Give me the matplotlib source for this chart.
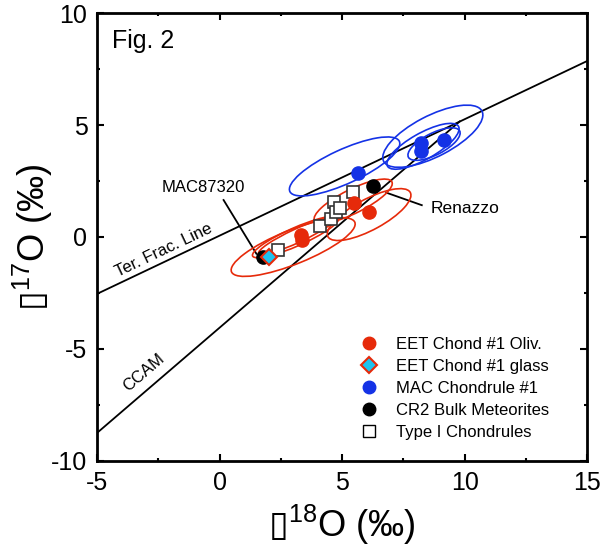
import numpy as np
import matplotlib
matplotlib.use("Agg")
import matplotlib.pyplot as plt
from matplotlib.patches import Ellipse
from matplotlib.lines import Line2D

plt.rcParams['font.family'] = ['Liberation Sans', 'DejaVu Sans']
plt.rcParams['mathtext.fontset'] = 'custom'
plt.rcParams['mathtext.rm'] = 'Liberation Sans'
plt.rcParams['mathtext.sf'] = 'DejaVu Sans'
plt.rcParams['axes.unicode_minus'] = False

# data
eet_oliv_x = [3.3, 3.35, 5.5, 6.1]
eet_oliv_y = [0.08, -0.12, 1.5, 1.12]
eet_glass_x = [2.0]
eet_glass_y = [-0.88]
mac_x = [5.65, 8.2, 8.2, 9.15]
mac_y = [2.85, 4.2, 3.85, 4.35]
cr2_x = [1.77, 6.25]
cr2_y = [-0.88, 2.28]
type1_x = [2.4, 4.1, 4.55, 4.65, 4.75, 4.9, 5.45]
type1_y = [-0.6, 0.5, 0.8, 1.55, 1.1, 1.3, 2.0]

# error ellipses: centre x, centre y, width, height, angle
red_ell = [
    (3.0, -0.45, 5.5, 1.5, 24),
    (3.15, 0.05, 3.5, 0.6, 27),
    (3.1, 0.0, 3.9, 0.8, 26),
    (5.45, 1.6, 3.6, 1.05, 29),
    (6.1, 1.0, 3.9, 1.35, 31),
]
blue_ell = [
    (5.1, 3.15, 5.0, 1.5, 27),
    (8.7, 4.5, 4.6, 1.8, 30),
    (8.3, 4.05, 3.4, 1.15, 32),
    (8.75, 4.15, 2.4, 0.95, 30),
]

# reference lines
tfl_slope, tfl_icpt, tfl_range = 0.52, 0.06, (-5, 15)
ccam_slope, ccam_icpt, ccam_range = 0.94, -4.05, (-5, 9.8)

red = '#e62a0a'
blue = '#1432e6'
cyan = '#1ec3f0'

fig = plt.figure(figsize=(6.11, 5.46), dpi=100)
ax = fig.add_axes([0.159, 0.156, 0.802, 0.820])

for slope, icpt, rng in [(tfl_slope, tfl_icpt, tfl_range), (ccam_slope, ccam_icpt, ccam_range)]:
    xs = np.array(rng)
    ax.plot(xs, slope * xs + icpt, color='black', lw=1.3, zorder=2)

for cx, cy, w, h, a in red_ell:
    ax.add_patch(Ellipse((cx, cy), w, h, angle=a, fill=False, ec=red, lw=1.2, zorder=3))
for cx, cy, w, h, a in blue_ell:
    ax.add_patch(Ellipse((cx, cy), w, h, angle=a, fill=False, ec=blue, lw=1.2, zorder=3))

# leader lines
ax.plot([0.16, 1.5], [1.65, -0.75], color='black', lw=1.3, zorder=2)
ax.plot([6.8, 8.25], [1.98, 1.42], color='black', lw=1.3, zorder=2)

ax.plot(cr2_x, cr2_y, 'o', color='black', ms=9.5, zorder=4)
ax.plot(type1_x, type1_y, 's', mfc='white', mec='#333333', mew=1.2, ms=8.5, zorder=5)
ax.plot(eet_oliv_x, eet_oliv_y, 'o', color=red, ms=9.5, zorder=6)
ax.plot(mac_x, mac_y, 'o', color=blue, ms=9.5, zorder=6)
ax.plot(eet_glass_x, eet_glass_y, 'D', mfc=cyan, mec=red, mew=1.5, ms=8, zorder=7)

ax.text(-0.65, 2.2, 'MAC87320', fontsize=12, ha='center', va='center')
ax.text(8.6, 1.25, 'Renazzo', fontsize=12.5, ha='left', va='center')
ax.text(-2.3, -0.6, 'Ter. Frac. Line', fontsize=12, ha='center', va='center',
        rotation=25.4, rotation_mode='anchor')
ax.text(-3.1, -6.05, 'CCAM', fontsize=12, ha='center', va='center',
        rotation=40.7, rotation_mode='anchor')
ax.text(0.03, 0.965, 'Fig. 2', transform=ax.transAxes, fontsize=18, ha='left', va='top')

ax.set_xlim(-5, 15)
ax.set_ylim(-10, 10)
ax.set_xticks([-5, 0, 5, 10, 15])
ax.set_yticks([-10, -5, 0, 5, 10])
ax.set_xticks(np.arange(-2.5, 15, 5), minor=True)
ax.set_yticks(np.arange(-7.5, 10, 5), minor=True)
ax.tick_params(which='both', direction='in', top=True, right=True, labelsize=18, width=1.5)
ax.tick_params(which='major', length=5, pad=7)
ax.tick_params(which='minor', length=2.5)
for s in ax.spines.values():
    s.set_linewidth(2)

box = '$\\mathsf{\u25af}$'
ax.set_xlabel(box + r'$\mathregular{^{18}}$O (‰)', fontsize=26, labelpad=6)
ax.set_ylabel(box + r'$\mathregular{^{17}}$O (‰)', fontsize=26, labelpad=-3)

handles = [
    Line2D([], [], ls='none', marker='o', color=red, ms=9),
    Line2D([], [], ls='none', marker='D', mfc=cyan, mec=red, mew=1.5, ms=8),
    Line2D([], [], ls='none', marker='o', color=blue, ms=9),
    Line2D([], [], ls='none', marker='o', color='black', ms=9),
    Line2D([], [], ls='none', marker='s', mfc='white', mec='black', mew=1.0, ms=8),
]
labels = ['EET Chond #1 Oliv.', 'EET Chond #1 glass', 'MAC Chondrule #1',
          'CR2 Bulk Meteorites', 'Type I Chondrules']
ax.legend(handles, labels, loc='upper left', bbox_to_anchor=(0.521, 0.296), frameon=False,
          fontsize=12, handlelength=1.0, handletextpad=1.1, labelspacing=0.42, borderpad=0)

fig.savefig('out.png', dpi=100)
